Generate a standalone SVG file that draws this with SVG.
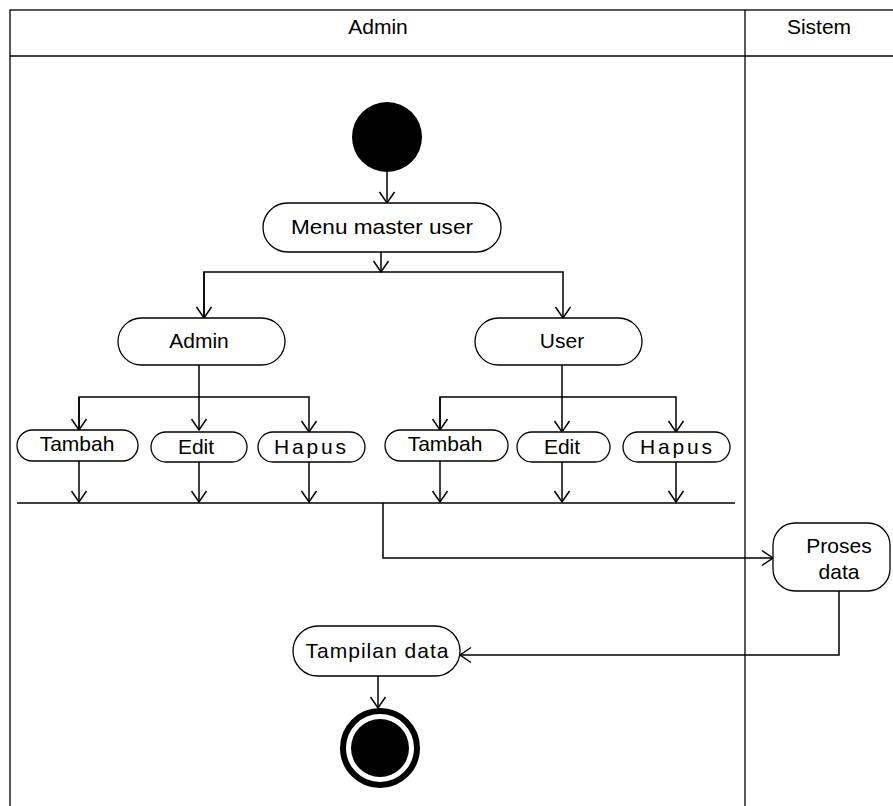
<svg xmlns="http://www.w3.org/2000/svg" width="893" height="806" viewBox="0 0 893 806">
<style>
.lane{fill:none;stroke:#000;stroke-width:1.3}
.node{fill:#fff;stroke:#000;stroke-width:1.3}
.t{font-family:"Liberation Sans",Arial,sans-serif;font-size:21px;fill:#000;text-anchor:middle}
.c{fill:none;stroke:#000;stroke-width:1.5}
</style>
<defs>
<marker id="arr" markerUnits="userSpaceOnUse" markerWidth="12" markerHeight="16" refX="11" refY="7.5" orient="auto" overflow="visible">
<path d="M0,0 L11,7.5 L0,15" fill="none" stroke="#000" stroke-width="1.5"/>
</marker>
</defs>
<rect width="893" height="806" fill="#fff"/>
<g id="lanes">
<rect class="lane" x="10" y="10" width="900" height="820"/>
<line class="lane" x1="10" y1="56" x2="893" y2="56"/>
<line class="lane" x1="745" y1="10" x2="745" y2="806"/>
<text class="t" x="378" y="34">Admin</text>
<text class="t" x="819" y="34">Sistem</text>
</g>
<g id="connectors">
<line class="c" x1="387" y1="172" x2="387" y2="203" marker-end="url(#arr)"/>
<line class="c" x1="381" y1="252" x2="381" y2="272" marker-end="url(#arr)"/>
<polyline class="c" points="204,318 204,272 563,272 563,318" marker-end="url(#arr)"/>
<line class="c" x1="204" y1="272" x2="204" y2="318" marker-end="url(#arr)"/>
<line class="c" x1="199" y1="365" x2="199" y2="430" marker-end="url(#arr)"/>
<polyline class="c" points="79,430 79,397 309,397 309,432" marker-end="url(#arr)"/>
<line class="c" x1="79" y1="397" x2="79" y2="430" marker-end="url(#arr)"/>
<line class="c" x1="562" y1="365" x2="562" y2="432" marker-end="url(#arr)"/>
<polyline class="c" points="440,430 440,397 676,397 676,432" marker-end="url(#arr)"/>
<line class="c" x1="440" y1="397" x2="440" y2="430" marker-end="url(#arr)"/>
<line class="c" x1="79" y1="461" x2="79" y2="502" marker-end="url(#arr)"/>
<line class="c" x1="199" y1="462" x2="199" y2="502" marker-end="url(#arr)"/>
<line class="c" x1="309" y1="462" x2="309" y2="502" marker-end="url(#arr)"/>
<line class="c" x1="440" y1="461" x2="440" y2="502" marker-end="url(#arr)"/>
<line class="c" x1="562" y1="462" x2="562" y2="502" marker-end="url(#arr)"/>
<line class="c" x1="676" y1="462" x2="676" y2="502" marker-end="url(#arr)"/>
<line class="c" x1="17" y1="503" x2="735" y2="503"/>
<polyline class="c" points="383,503 383,558 773,558" marker-end="url(#arr)"/>
<polyline class="c" points="839,591 839,655 460,655" marker-end="url(#arr)"/>
<line class="c" x1="378" y1="676" x2="378" y2="708" marker-end="url(#arr)"/>
</g>
<g id="start"><circle cx="387" cy="137" r="35" fill="#000"/></g>
<g id="menu"><rect class="node" x="263" y="203" width="238" height="49" rx="24.5"/><text class="t" x="382" y="234" textLength="182" lengthAdjust="spacingAndGlyphs">Menu master user</text></g>
<g id="admin"><rect class="node" x="118" y="318" width="167" height="47" rx="23.5"/><text class="t" x="199" y="348">Admin</text></g>
<g id="user"><rect class="node" x="475" y="318" width="167" height="47" rx="23.5"/><text class="t" x="562" y="348">User</text></g>
<g id="tambah1"><rect class="node" x="17" y="430" width="121" height="31" rx="15.5"/><text class="t" x="77" y="451">Tambah</text></g>
<g id="edit1"><rect class="node" x="151" y="432" width="96" height="30" rx="15"/><text class="t" x="196" y="454">Edit</text></g>
<g id="hapus1"><rect class="node" x="258" y="432" width="107" height="30" rx="15"/><text class="t" x="310" y="454" textLength="72" lengthAdjust="spacing">Hapus</text></g>
<g id="tambah2"><rect class="node" x="385" y="430" width="123" height="31" rx="15.5"/><text class="t" x="445" y="451">Tambah</text></g>
<g id="edit2"><rect class="node" x="517" y="432" width="93" height="30" rx="15"/><text class="t" x="562" y="454">Edit</text></g>
<g id="hapus2"><rect class="node" x="623" y="432" width="107" height="30" rx="15"/><text class="t" x="676" y="454" textLength="72" lengthAdjust="spacing">Hapus</text></g>
<g id="proses"><rect class="node" x="773" y="523" width="117" height="68" rx="22"/><text class="t" x="839" y="553">Proses</text><text class="t" x="839" y="579">data</text></g>
<g id="tampilan"><rect class="node" x="293" y="626" width="167" height="50" rx="25"/><text class="t" x="377" y="658" textLength="143" lengthAdjust="spacing">Tampilan data</text></g>
<g id="end"><circle cx="380" cy="748" r="37" fill="#fff" stroke="#000" stroke-width="6"/><circle cx="380" cy="748" r="29" fill="#000"/></g>
</svg>
